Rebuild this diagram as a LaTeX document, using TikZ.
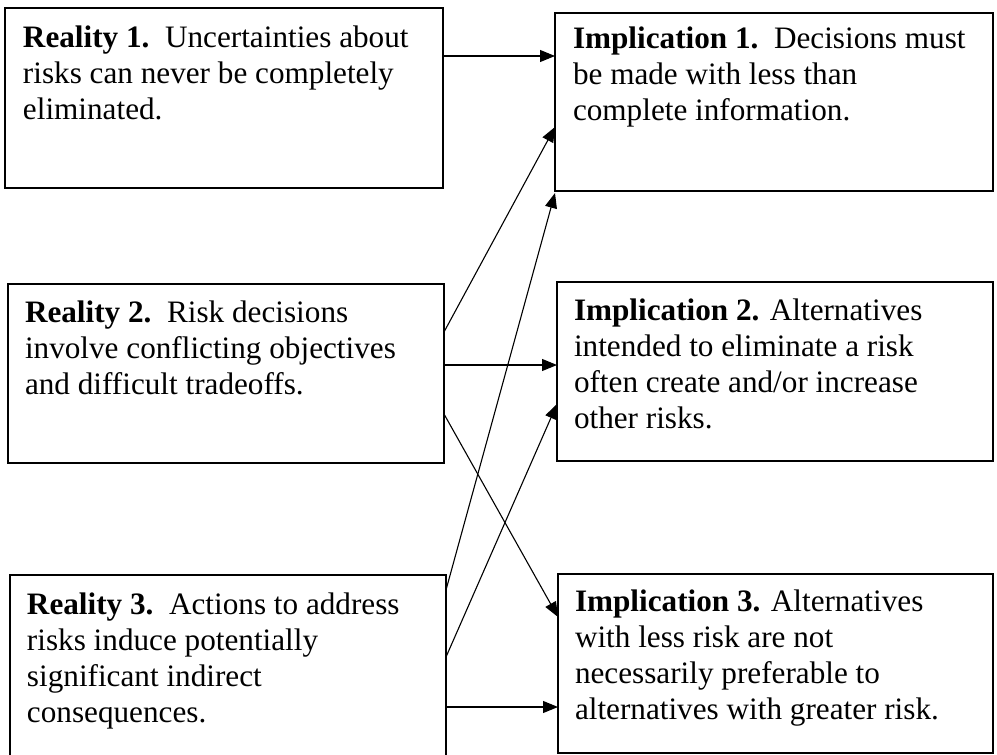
\documentclass[tikz,border=0pt]{standalone}
\usepackage{fontspec}
\setmainfont{Liberation Serif}
\usetikzlibrary{arrows.meta}
\begin{document}
\begin{tikzpicture}[x=1pt,y=-1pt,
  box/.style={draw=black,line width=1.4pt,rectangle,inner sep=0pt,outer sep=0pt,anchor=north west},
  txt/.style={anchor=north west,inner sep=0pt,outer sep=0pt,align=left,font=\fontsize{31.2}{36.3}\selectfont},
  conn/.style={draw=black,line width=1.1pt,-{Triangle[length=15pt,width=12pt]}}]
\useasboundingbox (0,0) rectangle (997,755);
% boxes
\node[box,minimum width=438pt,minimum height=180pt] (r1) at (5,8) {};
\node[box,minimum width=438pt,minimum height=178pt] (i1) at (555,13) {};
\node[box,minimum width=436pt,minimum height=179pt] (r2) at (8,284) {};
\node[box,minimum width=436pt,minimum height=179pt] (i2) at (557,282) {};
\node[box,minimum width=436pt,minimum height=190pt] (r3) at (10,575) {};
\node[box,minimum width=435pt,minimum height=179pt] (i3) at (558,574) {};
% texts
\node[txt] (r1t) at (23,21) {\rule{0pt}{26pt}\textbf{Reality 1.}\ \ Uncertainties about\\risks can never be completely\\eliminated.};
\node[txt] (i1t) at (573,22) {\rule{0pt}{26pt}\textbf{Implication 1.}\ \ Decisions must\\be made with less than\\complete information.};
\node[txt] (r2t) at (25,296) {\rule{0pt}{26pt}\textbf{Reality 2.}\ \ Risk decisions\\involve conflicting objectives\\and difficult tradeoffs.};
\node[txt] (i2t) at (574,294) {\rule{0pt}{26pt}\textbf{Implication 2.} Alternatives\\intended to eliminate a risk\\often create and/or increase\\other risks.};
\node[txt] (r3t) at (27,588) {\rule{0pt}{26pt}\textbf{Reality 3.}\ \ Actions to address\\risks induce potentially\\significant indirect\\consequences.};
\node[txt] (i3t) at (575,585) {\rule{0pt}{26pt}\textbf{Implication 3.} Alternatives\\with less risk are not\\necessarily preferable to\\alternatives with greater risk.};
% connectors
\draw[conn] ([yshift=-48pt]r1.north east) -- ([yshift=-43pt]i1.north west);
\draw[conn] ([yshift=-48pt]r2.north east) -- ([yshift=-114pt]i1.north west);
\draw[conn] ([yshift=-81pt]r2.north east) -- ([yshift=-83pt]i2.north west);
\draw[conn] ([yshift=-130pt]r2.north east) -- ([yshift=-43pt]i3.north west);
\draw[conn] ([yshift=-15pt]r3.north east) -- ([yshift=-2pt]i1.south west);
\draw[conn] ([yshift=-82pt]r3.north east) -- ([yshift=-122pt]i2.north west);
\draw[conn] ([yshift=-132pt]r3.north east) -- ([yshift=-133pt]i3.north west);
\end{tikzpicture}
\end{document}
